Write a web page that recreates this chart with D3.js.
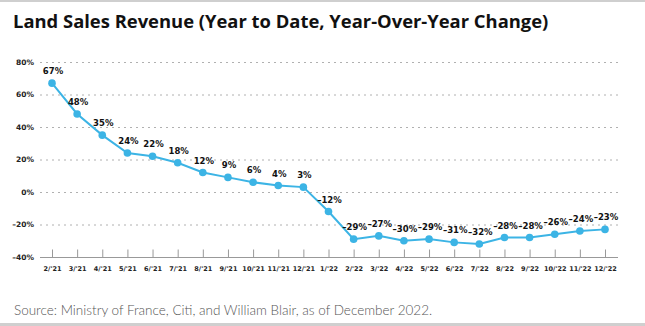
<!DOCTYPE html>
<html>
<head>
<meta charset="utf-8">
<script src="https://cdn.jsdelivr.net/npm/d3@7"></script>
<style>
    body { margin: 0; background: #fff; }
    svg { display: block; }
    .title { font-family: "Open Sans", sans-serif; font-weight: 700; fill: #111; }
    .source { font-family: Lato, sans-serif; font-weight: 300; fill: #555; }
    .axis text { font-family: "DejaVu Sans", sans-serif; font-weight: 700; fill: #222; }
    .point-label { font-family: "DejaVu Sans", sans-serif; font-weight: 700; fill: #111; }
</style>
</head>
<body>
<div class="chart"></div>
<script>
const WIDTH = 645, HEIGHT = 326;
const PLOT_LEFT = 40, PLOT_RIGHT = 618;
const X_FIRST = 52, X_LAST = 605;
const Y_TOP = 62, Y_BOTTOM = 257;
const LINE_COLOR = '#3cb4e5';

const months = ["2/'21", "3/'21", "4/'21", "5/'21", "6/'21", "7/'21", "8/'21", "9/'21",
    "10/'21", "11/'21", "12/'21", "1/'22", "2/'22", "3/'22", "4/'22", "5/'22",
    "6/'22", "7/'22", "8/'22", "9/'22", "10/'22", "11/'22", "12/'22"];
const yoyChange = [67, 48, 35, 24, 22, 18, 12, 9, 6, 4, 3, -12, -29, -27, -30, -29,
    -31, -32, -28, -28, -26, -24, -23];
const yTicks = [-40, -20, 0, 20, 40, 60, 80];

const pct = v => (v < 0 ? '\u2013' + Math.abs(v) : v) + '%';

const svg = d3.select('.chart').append('svg')
    .attr('width', WIDTH)
    .attr('height', HEIGHT);

// frame lines top and bottom
svg.append('rect').attr('x', 0).attr('y', 0).attr('width', WIDTH).attr('height', 2).attr('fill', '#cfcfcf');
svg.append('rect').attr('x', 0).attr('y', HEIGHT - 3).attr('width', WIDTH).attr('height', 3).attr('fill', '#cfcfcf');

svg.append('text')
    .attr('class', 'title')
    .attr('x', 13)
    .attr('y', 28)
    .style('font-size', '18.4px')
    .text('Land Sales Revenue (Year to Date, Year-Over-Year Change)');

svg.append('text')
    .attr('class', 'source')
    .attr('x', 14)
    .attr('y', 315)
    .style('font-size', '13.5px')
    .text('Source: Ministry of France, Citi, and William Blair, as of December 2022.');

const x = d3.scalePoint()
    .domain(months)
    .range([X_FIRST, X_LAST]);

const y = d3.scaleLinear()
    .domain([-40, 80])
    .range([Y_BOTTOM, Y_TOP]);

// dashed gridlines
svg.append('g')
    .selectAll('line')
    .data(yTicks.filter(t => t > -40))
    .enter().append('line')
        .attr('x1', PLOT_LEFT)
        .attr('x2', PLOT_RIGHT)
        .attr('y1', d => y(d) + 0.5)
        .attr('y2', d => y(d) + 0.5)
        .attr('stroke', '#b0b0b0')
        .attr('stroke-width', 1)
        .attr('stroke-dasharray', '2,4');

const yAxis = d3.axisLeft(y)
    .tickValues(yTicks)
    .tickSize(0)
    .tickPadding(6)
    .tickFormat(d => pct(d));

svg.append('g')
    .attr('class', 'axis')
    .attr('transform', `translate(${PLOT_LEFT}, 0)`)
    .call(yAxis)
    .call(g => g.select('.domain').remove())
    .call(g => g.selectAll('text').style('font-size', '7.5px'));

// baseline
svg.append('line')
    .attr('x1', PLOT_LEFT)
    .attr('x2', PLOT_RIGHT)
    .attr('y1', y(-40) + 0.5)
    .attr('y2', y(-40) + 0.5)
    .attr('stroke', '#999');

const xAxis = d3.axisBottom(x)
    .tickSizeInner(-8)
    .tickSizeOuter(0)
    .tickPadding(9);

svg.append('g')
    .attr('class', 'axis')
    .attr('transform', `translate(0, ${y(-40) + 0.5})`)
    .call(xAxis)
    .call(g => g.select('.domain').remove())
    .call(g => g.selectAll('.tick line').attr('stroke', '#999'))
    .call(g => g.selectAll('text').style('font-size', '6.5px'));

const line = d3.line()
    .x((d, i) => x(months[i]))
    .y(d => y(d));

svg.append('path')
    .datum(yoyChange)
    .attr('fill', 'none')
    .attr('stroke', LINE_COLOR)
    .attr('stroke-width', 2)
    .attr('d', line);

svg.append('g')
    .selectAll('circle')
    .data(yoyChange)
    .enter().append('circle')
        .attr('cx', (d, i) => x(months[i]))
        .attr('cy', d => y(d))
        .attr('r', 3.8)
        .attr('fill', LINE_COLOR);

svg.append('g')
    .selectAll('text')
    .data(yoyChange)
    .enter().append('text')
        .attr('class', 'point-label')
        .attr('x', (d, i) => x(months[i]) + 1)
        .attr('y', d => y(d) - 9)
        .attr('text-anchor', 'middle')
        .style('font-size', '8.5px')
        .text(d => pct(d));
</script>
</body>
</html>
